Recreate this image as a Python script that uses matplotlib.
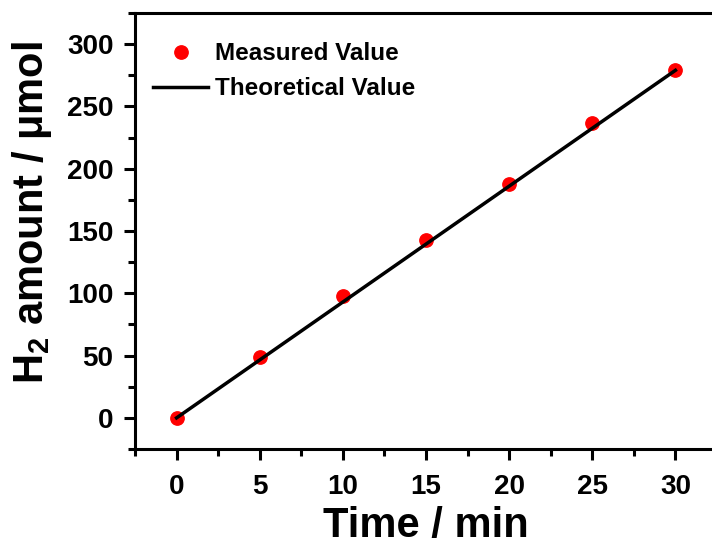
import matplotlib
matplotlib.use("Agg")
import matplotlib.pyplot as plt
from matplotlib.ticker import MultipleLocator

plt.rcParams['font.family'] = ['Liberation Sans', 'DejaVu Sans']
plt.rcParams['font.weight'] = 'bold'
plt.rcParams['mathtext.fontset'] = 'custom'
plt.rcParams['mathtext.rm'] = 'Liberation Sans:bold'
plt.rcParams['mathtext.bf'] = 'Liberation Sans:bold'
plt.rcParams['mathtext.it'] = 'Liberation Sans:bold'

time_min = [0, 5, 10, 15, 20, 25, 30]
measured = [0, 49, 98, 143, 188, 237, 279]
theory_x = [0, 30]
theory_y = [0, 279]

fig = plt.figure(figsize=(7.12, 5.45), dpi=100)
ax = fig.add_axes([0.1896, 0.1761, 0.8174, 0.800])

ax.plot(time_min, measured, 'o', color='#ff0000', markersize=9.6, label='Measured Value', zorder=2)
ax.plot(theory_x, theory_y, '-', color='black', linewidth=2.5, label='Theoretical Value', zorder=3)

ax.set_xlim(-2.5, 32.5)
ax.set_ylim(-25, 325)
ax.xaxis.set_major_locator(MultipleLocator(5))
ax.xaxis.set_minor_locator(MultipleLocator(2.5))
ax.yaxis.set_major_locator(MultipleLocator(50))
ax.yaxis.set_minor_locator(MultipleLocator(25))

for s in ['left', 'bottom', 'top']:
    ax.spines[s].set_linewidth(2.2)
ax.spines['right'].set_visible(False)

ax.tick_params(which='major', direction='out', length=8, width=2.2, labelsize=20)
ax.tick_params(which='minor', direction='out', length=5, width=2.2)
ax.tick_params(axis='x', which='major', pad=10)
ax.tick_params(axis='y', which='major', pad=7.5)
ax.tick_params(top=False, right=False, which='both')
for lab in ax.get_xticklabels() + ax.get_yticklabels():
    lab.set_fontweight('bold')

ax.set_xlabel('Time / min', fontsize=30, fontweight='bold', labelpad=4)
ax.set_ylabel(r'H$_2$ amount / μmol', fontsize=30, fontweight='bold')
ax.yaxis.set_label_coords(-0.139, 0.542)

leg = ax.legend(loc='upper left', frameon=False, fontsize=17.5, handlelength=2.26,
                handletextpad=0.29, borderpad=0, borderaxespad=0, labelspacing=0.49,
                bbox_to_anchor=(0.031, 0.933))
for t in leg.get_texts():
    t.set_fontweight('bold')

fig.savefig('out.png', dpi=100)
